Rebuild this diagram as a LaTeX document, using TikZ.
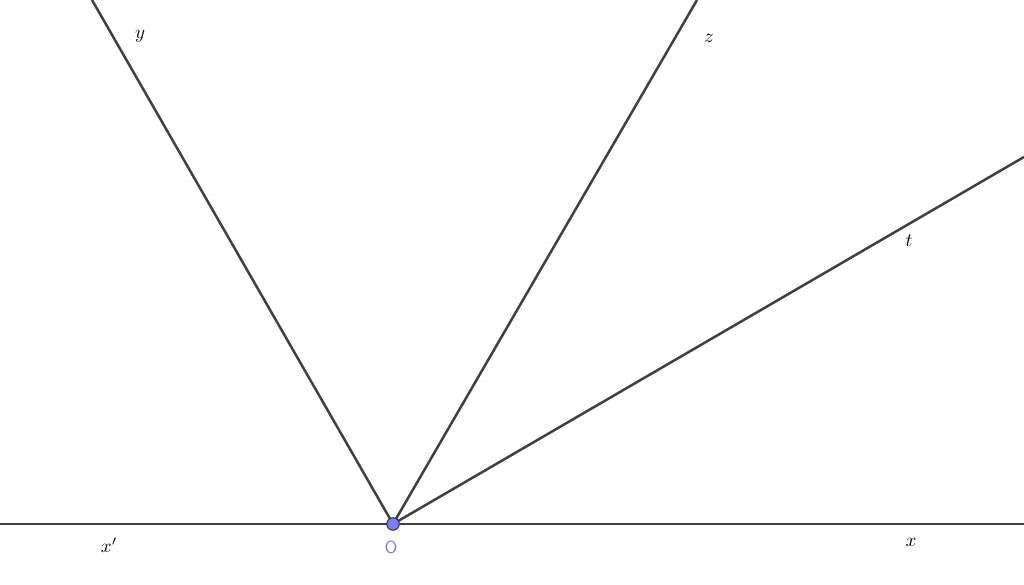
\documentclass[tikz,border=0pt]{standalone}
\usepackage{fontspec}
\begin{document}
\begin{tikzpicture}[x=1pt,y=1pt,
  ray/.style={draw=linegray,line width=2.5pt},
  ]
\definecolor{linegray}{HTML}{404040}
\definecolor{ptfill}{HTML}{7D7DFF}
\definecolor{ptlbl}{HTML}{7F7FBF}
\useasboundingbox (0,0) rectangle (1024,585);
\coordinate (O) at (393,61);
\coordinate (Xl) at (-5,61);
\coordinate (Xr) at (1029,61);
\coordinate (Y) at (92,585);
\coordinate (Z) at (697,585);
\coordinate (T) at (1024,428);
\draw[ray] (Xl) -- (Xr);
\draw[ray] (O) -- (Y);
\draw[ray] (O) -- (Z);
\draw[ray] (O) -- (T);
\node[circle,fill=ptfill,draw=black!80,line width=1pt,inner sep=0pt,minimum size=12.5pt] (Opt) at (O) {};
\node (ly) at (140,549) {\scalebox{1.9}{$y$}};
\node (lz) at (709,547) {\scalebox{1.9}{$z$}};
\node (lt) at (909,344) {\scalebox{1.9}{$t$}};
\node (lx) at (911,43) {\scalebox{1.9}{$x$}};
\node (lxp) at (109,40) {\scalebox{1.9}{$x'$}};
\node[text=ptlbl] (lO) at (391,38) {\scalebox{1.75}{\sffamily O}};
\end{tikzpicture}
\end{document}
